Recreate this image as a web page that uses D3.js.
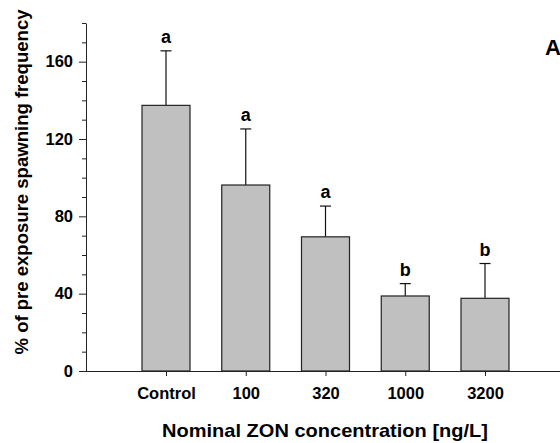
<!DOCTYPE html>
<html>
<head>
<meta charset="utf-8">
<script src="https://cdn.jsdelivr.net/npm/d3@7"></script>
<style>
  body { margin: 0; background: #fff; }
  svg text { font-family: "Liberation Sans", Arial, sans-serif; font-weight: bold; fill: #000; }
</style>
</head>
<body>
<div id="chart"></div>
<script>
var categories = ["Control", "100", "320", "1000", "3200"];
var means = [137.4, 96.2, 69.4, 38.8, 37.6];
var errors = [28.2, 29.0, 15.9, 6.4, 18.0];
var letters = ["a", "a", "a", "b", "b"];
var majorTicks = [0, 40, 80, 120, 160];
var minorTicks = [10, 20, 30, 50, 60, 70, 90, 100, 110, 130, 140, 150, 170, 180];

var svg = d3.select("#chart").append("svg")
  .attr("width", 560)
  .attr("height", 443);

var x = d3.scalePoint().domain(categories).range([166, 485]);
var y = d3.scaleLinear().domain([0, 180]).range([371, 23]);
var barW = 48;

// minor ticks
svg.append("g")
  .attr("transform", "translate(86,0)")
  .call(d3.axisLeft(y).tickValues(minorTicks).tickSize(4).tickFormat(""))
  .call(function(g) { g.select(".domain").remove(); });

// major ticks + axis line
var yAxis = svg.append("g")
  .attr("transform", "translate(86,0)")
  .call(d3.axisLeft(y).tickValues(majorTicks).tickSize(7).tickSizeOuter(0).tickPadding(6));
yAxis.selectAll("text").style("font-size", "16.5px");

// x axis
var xAxis = svg.append("g")
  .attr("transform", "translate(0,371)")
  .call(d3.axisBottom(x).tickSize(5).tickSizeOuter(0).tickPadding(11));
xAxis.select(".domain").attr("d", "M86,0.5H560");
xAxis.selectAll("text").style("font-size", "16.5px");

svg.selectAll(".tick line, .domain").attr("stroke", "#222");

// error bars (upper only)
var eb = svg.append("g").attr("stroke", "#111").attr("stroke-width", 1.2);
eb.selectAll(".stem").data(categories).enter().append("line")
  .attr("x1", function(d) { return x(d); })
  .attr("x2", function(d) { return x(d); })
  .attr("y1", function(d, i) { return y(means[i]); })
  .attr("y2", function(d, i) { return y(means[i] + errors[i]); });
eb.selectAll(".cap").data(categories).enter().append("line")
  .attr("x1", function(d) { return x(d) - 5.5; })
  .attr("x2", function(d) { return x(d) + 5.5; })
  .attr("y1", function(d, i) { return y(means[i] + errors[i]); })
  .attr("y2", function(d, i) { return y(means[i] + errors[i]); });

// bars
svg.selectAll(".bar").data(categories).enter().append("rect")
  .attr("x", function(d) { return x(d) - barW / 2; })
  .attr("y", function(d, i) { return y(means[i]); })
  .attr("width", barW)
  .attr("height", function(d, i) { return y(0) - y(means[i]); })
  .attr("fill", "#c0c0c0")
  .attr("stroke", "#222")
  .attr("stroke-width", 1.2);

// significance letters
svg.selectAll(".sig").data(categories).enter().append("text")
  .attr("x", function(d) { return x(d); })
  .attr("y", function(d, i) { return y(means[i] + errors[i]) - 8; })
  .attr("text-anchor", "middle")
  .style("font-size", "18px")
  .text(function(d, i) { return letters[i]; });

// titles
svg.append("text")
  .attr("x", 325).attr("y", 437)
  .attr("text-anchor", "middle")
  .attr("textLength", 326).attr("lengthAdjust", "spacingAndGlyphs")
  .style("font-size", "19px")
  .text("Nominal ZON concentration [ng/L]");

svg.append("text")
  .attr("transform", "translate(28,182) rotate(-90)")
  .attr("text-anchor", "middle")
  .attr("textLength", 345).attr("lengthAdjust", "spacingAndGlyphs")
  .style("font-size", "18.5px")
  .text("% of pre exposure spawning frequency");

svg.append("text")
  .attr("x", 545).attr("y", 55)
  .style("font-size", "22px")
  .text("A");
</script>
</body>
</html>
